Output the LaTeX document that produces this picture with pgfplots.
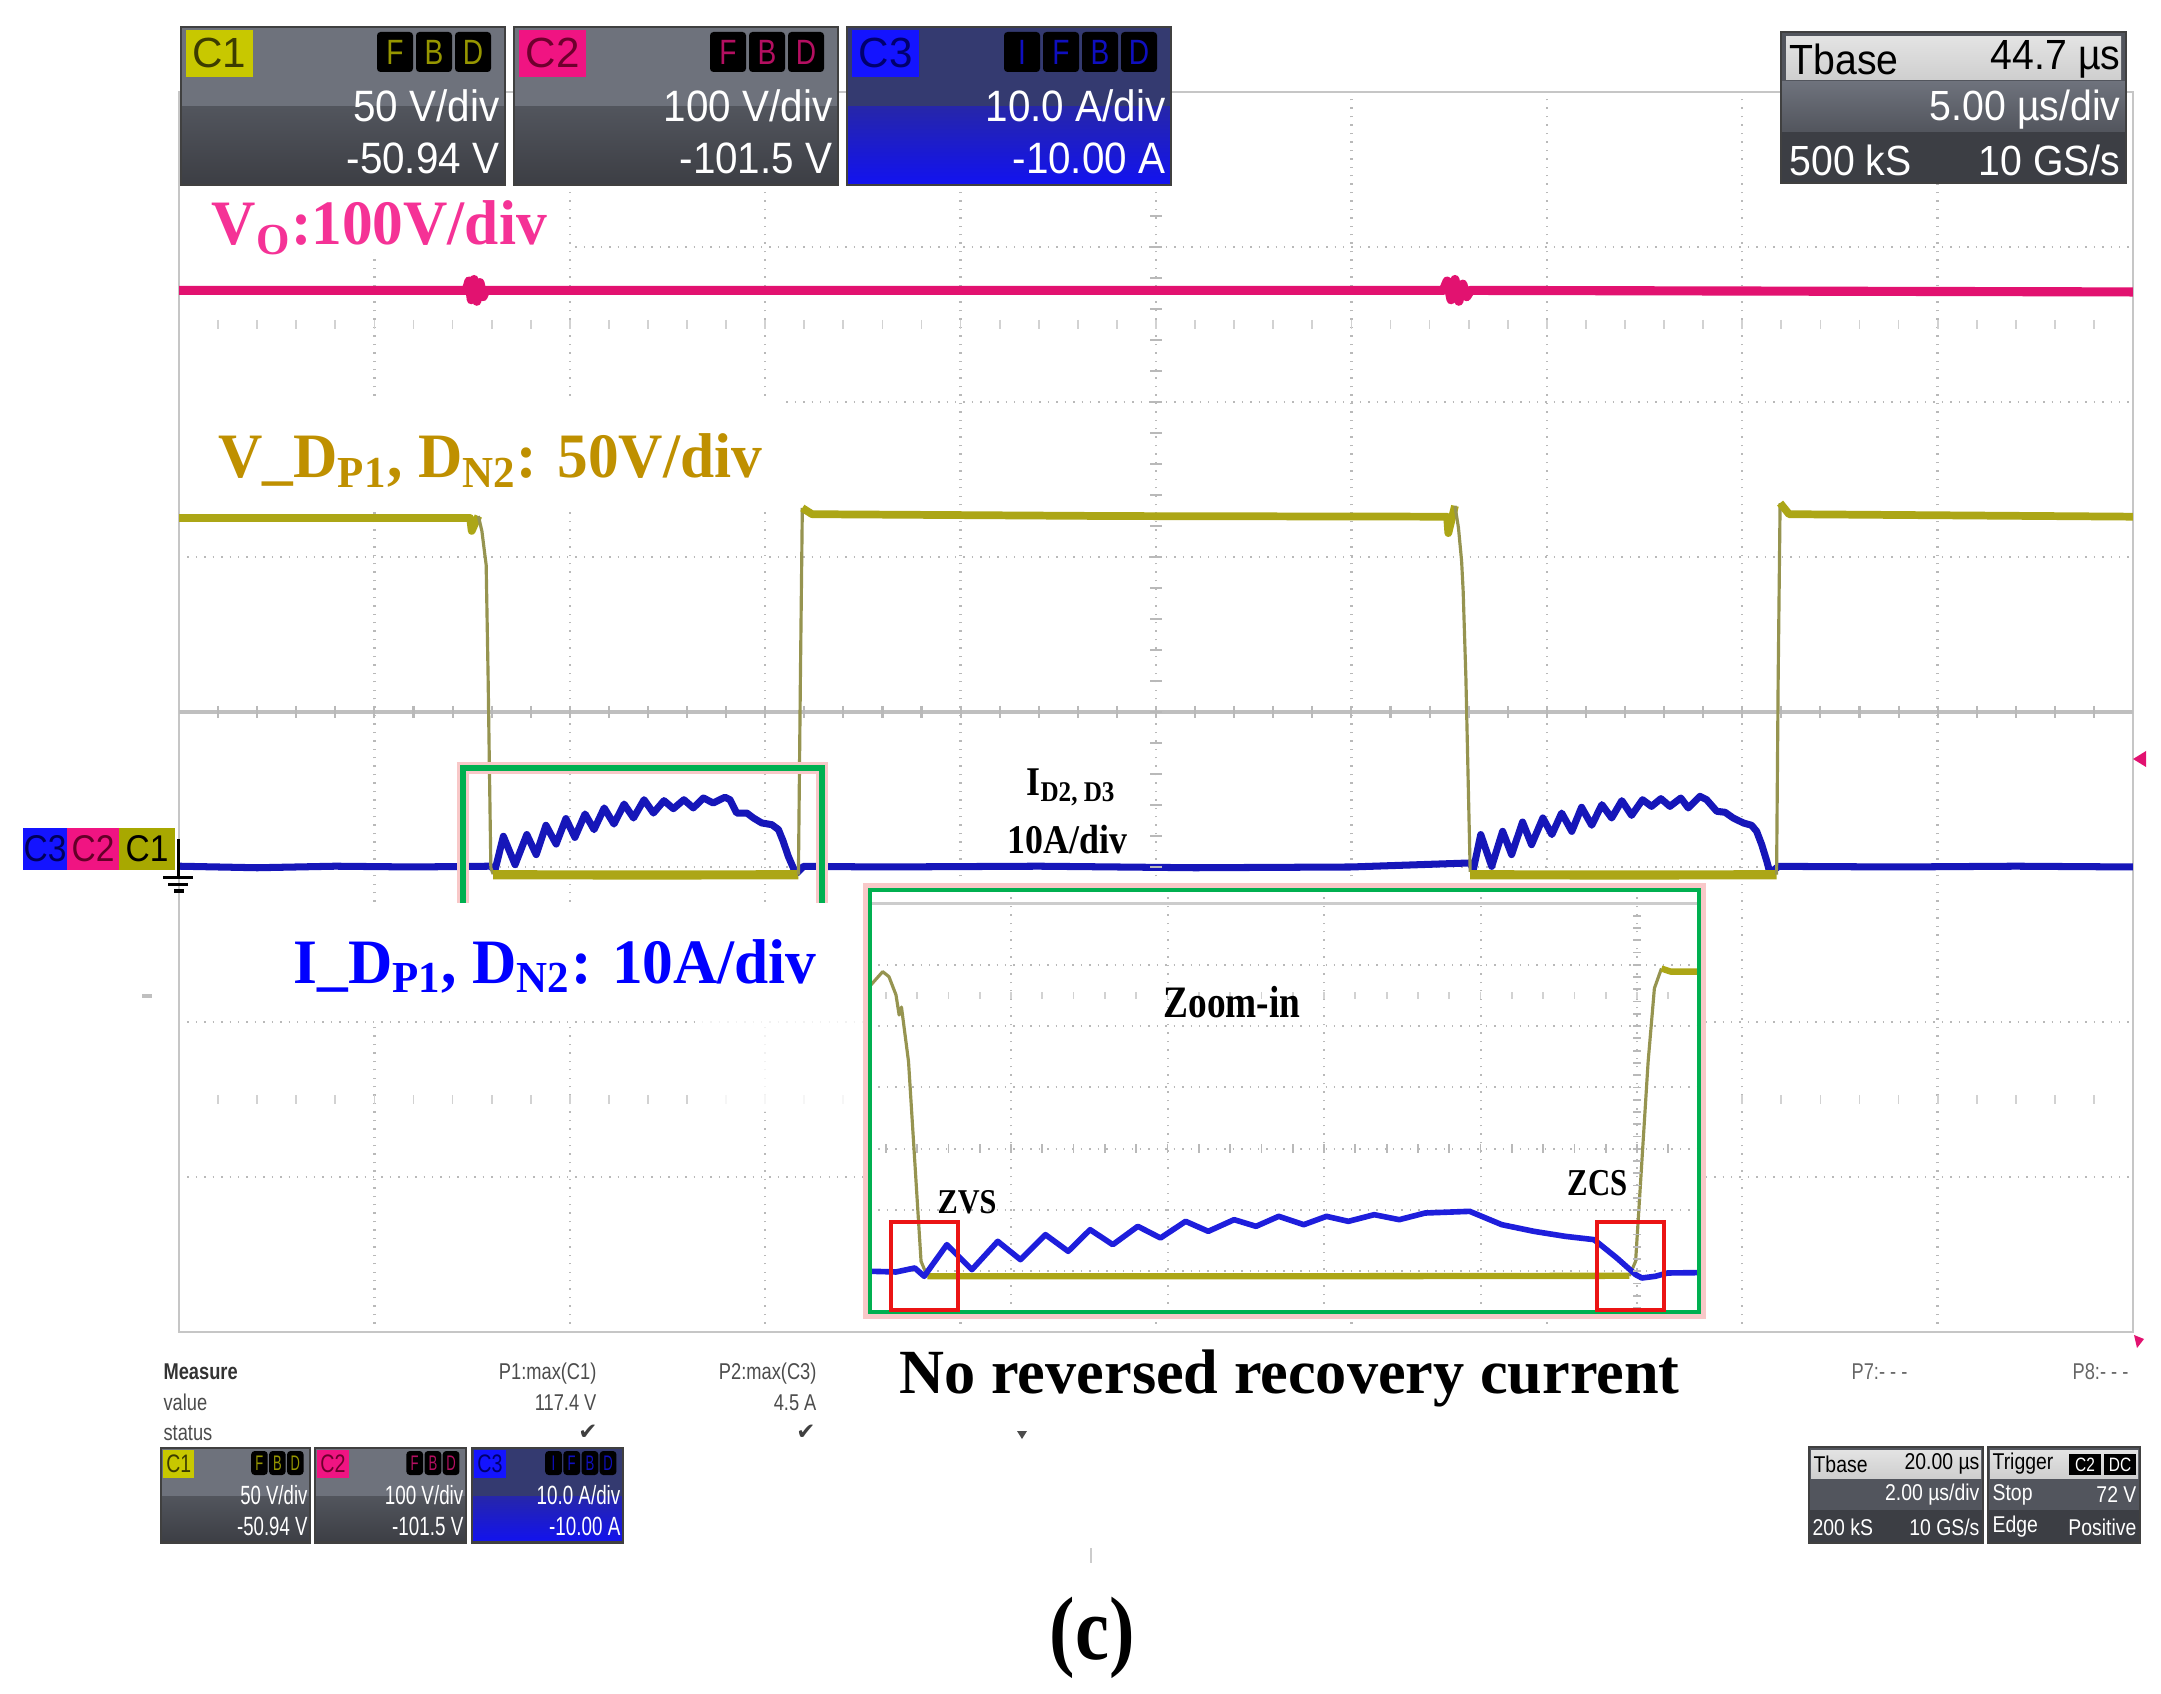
\documentclass[border=0pt]{standalone}
\usepackage{pgfplots}
\pgfplotsset{compat=1.18}
\usepackage{fontspec}
\setmainfont{Liberation Serif}
\newfontfamily\arial{Liberation Sans}
\newfontfamily\djv{DejaVu Sans}

\definecolor{vpink}{RGB}{226,18,112}
\definecolor{lpink}{RGB}{245,50,150}
\definecolor{ytrace}{RGB}{172,166,22}
\definecolor{yedge}{RGB}{150,148,80}
\definecolor{ylabel}{RGB}{191,144,0}
\definecolor{btrace}{RGB}{22,22,185}
\definecolor{binset}{RGB}{30,30,220}
\definecolor{ginset}{RGB}{0,176,80}
\definecolor{glow}{RGB}{248,200,200}
\definecolor{rbox}{RGB}{235,20,20}
\definecolor{pnlA}{RGB}{110,114,124}
\definecolor{pnlB}{RGB}{82,85,93}
\definecolor{pnlC}{RGB}{60,62,68}
\definecolor{pnlBlueA}{RGB}{52,58,112}
\definecolor{pnlBlueB}{RGB}{38,38,170}
\definecolor{pnlBlueC}{RGB}{18,18,240}
\definecolor{tagY}{RGB}{200,200,0}
\definecolor{tagP}{RGB}{240,20,130}
\definecolor{tagB}{RGB}{20,20,255}
\definecolor{tagO}{RGB}{168,168,0}

\newcommand{\fs}[1]{\fontsize{#1}{#1}\selectfont}

% channel panel, local units 324 x 158
\newcommand{\chpanel}[9]{%
  \fill[#1] (0,0) rectangle (324,80);
  \shade[top color=#2, bottom color=#3] (0,80) rectangle (324,158);
  \draw[black!75, line width=0.8pt] (0,0) rectangle (324,158);
  \fill[#4] (5,3) rectangle (72,50);
  \node[text=#5, font=\arial\fs{12}, inner sep=0] at (38.5,26) {#6};
  \foreach \px/\lt in {#7}{%
    \fill[black, rounded corners=1pt] (\px,5) rectangle ++(36,40);
    \node[text=#4!75!black, font=\arial\fs{10}, xscale=0.8, inner sep=0] at (\px+18,25) {\lt};
  }
  \node[anchor=east, text=white, font=\arial\fs{12.5}, xscale=0.92, inner sep=0] at (319,79) {#8};
  \node[anchor=east, text=white, font=\arial\fs{12.5}, xscale=0.92, inner sep=0] at (319,131) {#9};
}

\begin{document}
\begin{tikzpicture}
\begin{scope}[x=0.1mm,y=-0.1mm]
  \fill[white] (0,0) rectangle (2161,1694);
  \coordinate (mainNW) at (179,92);
  \coordinate (insetNW) at (870,890);
\end{scope}

% main screen: time in us, each channel scaled to divisions, ground at -1 div
\begin{axis}[
  at={(mainNW)}, anchor=north west,
  width=195.4mm, height=124mm, scale only axis,
  xmin=0, xmax=50, ymin=-4, ymax=4,
  xtick={5,10,...,45}, ytick={-3,-2,-1,1,2,3},
  xticklabels={}, yticklabels={}, major tick length=0pt,
  extra y ticks={0}, extra y tick labels={},
  extra y tick style={major grid style={solid, gray!50, line width=1pt}},
  grid=major, major grid style={dotted, gray!55, line width=0.7pt},
  axis line style={gray!45, line width=0.8pt},
  every axis plot/.append style={line join=round},
]
% V_O, 100 V/div
\addplot[vpink, line width=2.6pt, y filter/.expression={y/100-1}] coordinates {
  (0,372)(7.35,372)(7.42,378)(7.48,366)(7.55,379)(7.62,365)(7.70,377)(7.78,368)(7.85,372)
  (20,372)(32.35,372)(32.45,378)(32.55,366)(32.65,379)(32.75,365)(32.85,376)(32.95,368)(33.05,372)(50,371)
};
% I_D, 10 A/div
\addplot[btrace, line width=2pt, y filter/.expression={y/10-1}] coordinates {
  (0,0.05)(2,-0.05)(4,0.05)(6,0)(7.96,0.05)(8.09,-0.17)(8.30,1.98)(8.60,0.15)(8.90,2.09)(9.14,0.80)
  (9.39,2.69)(9.65,1.48)(9.90,3.12)(10.13,1.91)(10.39,3.42)(10.62,2.41)(10.88,3.81)(11.13,2.77)
  (11.39,4.06)(11.63,3.16)(11.90,4.34)(12.14,3.48)(12.41,4.28)(12.65,3.76)(12.92,4.34)(13.16,3.81)
  (13.42,4.45)(13.67,4.13)(13.97,4.50)(14.10,4.34)(14.27,3.48)(14.53,3.48)(14.70,3.16)(14.91,2.84)
  (15.17,2.73)(15.34,2.41)(15.46,1.66)(15.59,0.69)(15.72,-0.06)(15.81,-0.39)(15.98,0.04)
  (18,0)(22,0.05)(26,-0.05)(30,0)(33.04,0.26)(33.12,-0.17)(33.31,2.09)(33.59,0.04)(33.87,2.30)
  (34.10,0.80)(34.38,2.90)(34.61,1.44)(34.90,3.16)(35.13,2.09)(35.38,3.48)(35.64,2.30)(35.89,3.85)
  (36.15,2.69)(36.41,4.02)(36.66,3.16)(36.92,4.28)(37.17,3.33)(37.45,4.34)(37.68,3.91)(37.92,4.41)
  (38.15,3.91)(38.43,4.45)(38.62,3.81)(38.92,4.56)(39.09,4.34)(39.35,3.59)(39.56,3.53)(39.77,3.16)
  (40.03,2.84)(40.24,2.69)(40.37,2.30)(40.50,1.44)(40.63,0.37)(40.71,-0.39)(40.93,0.04)
  (44,0)(47,0.05)(50,0)
};
% V_D, 50 V/div: flat levels thick, edges thin
\addplot[ytrace, line width=2.2pt, y filter/.expression={y/50-1}] coordinates {
  (0,112.6)(7.45,112.6)(7.49,108.4)(7.66,113.2)};
\addplot[yedge, line width=0.9pt, y filter/.expression={y/50-1}] coordinates {
  (7.66,113.2)(7.75,108.4)(7.86,97.4)(7.91,61)(7.98,-0.3)(8.04,-2.3)};
\addplot[ytrace, line width=2.6pt, y filter/.expression={y/50-1}] coordinates {
  (8.04,-2.5)(12,-2.6)(15.85,-2.5)};
\addplot[yedge, line width=0.9pt, y filter/.expression={y/50-1}] coordinates {
  (15.85,-2.5)(15.90,60)(15.95,115.8)};
\addplot[ytrace, line width=2.2pt, y filter/.expression={y/50-1}] coordinates {
  (15.95,115.8)(16.2,113.8)(24,113.2)(32.45,113.0)(32.48,107.7)(32.65,116.5)};
\addplot[yedge, line width=0.9pt, y filter/.expression={y/50-1}] coordinates {
  (32.65,116.5)(32.74,109.4)(32.82,98.7)(32.86,89)(32.93,61)(33.04,-1.6)};
\addplot[ytrace, line width=2.6pt, y filter/.expression={y/50-1}] coordinates {
  (33.04,-2.5)(37,-2.6)(40.88,-2.5)};
\addplot[yedge, line width=0.9pt, y filter/.expression={y/50-1}] coordinates {
  (40.88,-2.5)(40.92,60)(40.97,117.4)};
\addplot[ytrace, line width=2.2pt, y filter/.expression={y/50-1}] coordinates {
  (40.97,117.4)(41.2,113.8)(50,113.0)};
\end{axis}

\begin{scope}[x=0.1mm,y=-0.1mm]
  % centre-line and half-scale tick marks
  \foreach \k in {1,...,49} {
    \draw[gray!55, line width=0.6pt] ({179+\k*39.08},706) -- ++(0,12);
    \draw[gray!35, line width=0.5pt] ({179+\k*39.08},320) -- ++(0,9);
    \draw[gray!35, line width=0.5pt] ({179+\k*39.08},1095) -- ++(0,9);
  }
  \foreach \k in {1,...,39} \draw[gray!55, line width=0.6pt] (1150,{92+\k*31}) -- ++(12,0);

  % white label backgrounds
  \fill[white] (183,186) rectangle (569,252);
  \fill[white] (182,398) rectangle (786,510);
  % zoom frame round the first pulse
  \draw[glow, line width=3.2pt] (463,905) -- (463,768) -- (822,768) -- (822,905);
  \draw[ginset, line width=1.7pt] (463,905) -- (463,768) -- (822,768) -- (822,905);
  \fill[white] (181,903) rectangle (866,1020);
  \fill[white, opacity=0.8] (700,1020) rectangle (866,1112);

  % channel markers and ground
  \fill[tagB] (23,828) rectangle (67,870);
  \fill[tagP] (67,828) rectangle (119,870);
  \fill[tagO] (119,828) rectangle (175,870);
  \node[text={rgb,255:red,0;green,0;blue,90}, font=\arial\fs{10.6}, xscale=0.9, inner sep=0] at (45,849) {C3};
  \node[text={rgb,255:red,100;green,0;blue,40}, font=\arial\fs{10.6}, xscale=0.9, inner sep=0] at (93,849) {C2};
  \node[text=black, font=\arial\fs{10.6}, xscale=0.9, inner sep=0] at (147,849) {C1};
  \draw[black, line width=0.9pt] (178.5,839) -- (178.5,877);
  \draw[black, line width=0.9pt] (163,877.5) -- (193,877.5);
  \draw[black, line width=0.9pt] (168,884.4) -- (188,884.4);
  \draw[black, line width=0.9pt] (174,891) -- (184,891);
\end{scope}

% zoomed view: 2 us/div
\begin{axis}[
  at={(insetNW)}, anchor=north west,
  width=82.9mm, height=42.2mm, scale only axis,
  xmin=0.198, xmax=10.79, ymin=-2.664, ymax=4.22,
  xtick={2,4,6,8,10}, ytick={-2,-1,0,1,2,3},
  xticklabels={}, yticklabels={}, major tick length=0pt,
  extra y ticks={4}, extra y tick labels={},
  extra y tick style={major grid style={solid, gray!40, line width=1.1pt}},
  grid=major, major grid style={dotted, gray!55, line width=0.6pt},
  axis line style={draw=none},
  axis background/.style={fill=white},
  every axis plot/.append style={line join=round},
]
\addplot[yedge, line width=0.9pt, y filter/.expression={y/23.2-2}] coordinates {
  (0.21,108.4)(0.36,113.4)(0.44,111.5)(0.53,104.6)(0.57,97.0)(0.60,100)(0.69,79.4)(0.77,41.6)(0.85,3.8)(0.93,-1.9)};
\addplot[ytrace, line width=1.8pt, y filter/.expression={y/23.2-2}] coordinates {
  (0.93,-1.9)(5,-1.9)(9.90,-1.7)};
\addplot[yedge, line width=0.9pt, y filter/.expression={y/23.2-2}] coordinates {
  (9.90,-1.7)(9.98,3.8)(10.06,41.6)(10.14,79.4)(10.22,107.1)(10.31,114.6)};
\addplot[ytrace, line width=1.8pt, y filter/.expression={y/23.2-2}] coordinates {
  (10.31,114.6)(10.43,113.4)(10.79,113.4)};
\addplot[binset, line width=1.6pt, y filter/.expression={y/4.6-2}] coordinates {
  (0.22,0)(0.53,-0.05)(0.77,0.25)(0.89,-0.375)(1.18,2.0)(1.50,0.125)(1.83,2.25)(2.12,0.875)
  (2.44,2.75)(2.73,1.5)(3.01,3.125)(3.30,2.0)(3.62,3.375)(3.91,2.5)(4.23,3.75)(4.52,3.0)
  (4.85,3.875)(5.13,3.375)(5.42,4.125)(5.74,3.5)(6.03,4.125)(6.31,3.75)(6.64,4.25)(6.96,3.875)
  (7.29,4.375)(7.86,4.5)(8.27,3.5)(8.68,3.0)(9.08,2.625)(9.45,2.375)(9.74,1.0)(9.98,-0.25)
  (10.06,-0.5)(10.23,-0.375)(10.39,-0.125)(10.79,-0.1)
};
\end{axis}

\begin{scope}[x=0.1mm,y=-0.1mm]
  \foreach \k in {1,...,26} {
    \draw[gray!55, line width=0.5pt] ({854.5+\k*31.3},1144) -- ++(0,9);
    \draw[gray!35, line width=0.5pt] ({854.5+\k*31.3},992) -- ++(0,7);
  }
  \foreach \k in {1,...,33} \draw[gray!55, line width=0.5pt] (1633,{903.5+\k*12.26}) -- ++(8,0);
  \draw[glow, line width=1.8pt] (866,886) rectangle (1703,1316);
  \draw[ginset, line width=1.4pt] (870,890) rectangle (1699,1312);
  \draw[rbox, line width=1.4pt] (891,1222) rectangle (958,1310);
  \draw[rbox, line width=1.4pt] (1597,1222) rectangle (1664,1310);

  % annotations
  \node[anchor=base west, text=lpink, font=\fs{18}\bfseries, xscale=0.97, inner sep=0] at (211,245) {V\textsubscript{O}:100V/div};
  \node[anchor=base west, text=ylabel, font=\fs{18}\bfseries, xscale=0.97, inner sep=0] at (218,478) {V\_D\textsubscript{P1}, D\textsubscript{N2}: 50V/div};
  \node[anchor=base west, text=blue, font=\fs{18}\bfseries, xscale=0.97, inner sep=0] at (293,983) {I\_D\textsubscript{P1}, D\textsubscript{N2}: 10A/div};
  \node[anchor=base west, font=\fs{11.6}\bfseries, xscale=0.88, inner sep=0] at (1026,795) {I\textsubscript{D2, D3}};
  \node[anchor=base west, font=\fs{11.6}\bfseries, xscale=0.88, inner sep=0] at (1007,853) {10A/div};
  \node[anchor=base, font=\fs{12.8}\bfseries, xscale=0.83, inner sep=0] at (1232,1017) {Zoom-in};
  \node[anchor=base west, font=\fs{9.9}\bfseries, xscale=0.87, inner sep=0] at (937,1213) {ZVS};
  \node[anchor=base west, font=\fs{10.8}\bfseries, xscale=0.81, inner sep=0] at (1567,1195) {ZCS};
  \node[anchor=base west, font=\fs{17.9}\bfseries, xscale=0.99, inner sep=0] at (899,1393) {No reversed recovery current};
  \node[anchor=base, font=\fs{25.6}\bfseries, xscale=0.85, inner sep=0] at (1092,1659) {(c)};

  % top scope panels
  \begin{scope}[shift={(181,27)}]
    \chpanel{pnlA}{pnlB}{pnlC}{tagY}{{rgb,255:red,60;green,60;blue,0}}{C1}{196/F,235/B,274/D}{50 V/div}{-50.94 V}
  \end{scope}
  \begin{scope}[shift={(514,27)}]
    \chpanel{pnlA}{pnlB}{pnlC}{tagP}{{rgb,255:red,110;green,0;blue,45}}{C2}{196/F,235/B,274/D}{100 V/div}{-101.5 V}
  \end{scope}
  \begin{scope}[shift={(847,27)}]
    \chpanel{pnlBlueA}{pnlBlueB}{pnlBlueC}{tagB}{{rgb,255:red,0;green,0;blue,110}}{C3}{157/I,196/F,235/B,274/D}{10.0 A/div}{-10.00 A}
  \end{scope}
  \begin{scope}[shift={(1781,32)}]
    \fill[pnlB] (0,0) rectangle (345,151);
    \shade[top color=pnlA, bottom color=pnlB] (0,50) rectangle (345,100);
    \fill[pnlC] (0,100) rectangle (345,151);
    \shade[top color=gray!22, bottom color=gray!38] (5,5) rectangle (340,48);
    \draw[black!75, line width=0.8pt] (0,0) rectangle (345,151);
    \node[anchor=west, font=\arial\fs{12}, xscale=0.93, inner sep=0] at (8,27) {Tbase};
    \node[anchor=east, font=\arial\fs{12}, xscale=0.93, inner sep=0] at (340,27) {44.7 µs};
    \node[anchor=east, text=white, font=\arial\fs{12}, xscale=0.93, inner sep=0] at (340,78) {5.00 µs/div};
    \node[anchor=west, text=white, font=\arial\fs{12}, xscale=0.93, inner sep=0] at (8,128) {500 kS};
    \node[anchor=east, text=white, font=\arial\fs{12}, xscale=0.93, inner sep=0] at (340,128) {10 GS/s};
  \end{scope}

  % measurement table
  \node[anchor=base west, text=black!80, font=\arial\fs{6.5}\bfseries, xscale=0.8, inner sep=0] at (163,1379) {Measure};
  \node[anchor=base west, text=black!70, font=\arial\fs{6.5}, xscale=0.8, inner sep=0] at (163,1410) {value};
  \node[anchor=base west, text=black!70, font=\arial\fs{6.5}, xscale=0.8, inner sep=0] at (163,1440) {status};
  \node[anchor=base east, text=black!70, font=\arial\fs{6.5}, xscale=0.8, inner sep=0] at (597,1379) {P1:max(C1)};
  \node[anchor=base east, text=black!70, font=\arial\fs{6.5}, xscale=0.8, inner sep=0] at (597,1410) {117.4 V};
  \node[text=black!75, font=\djv\fs{6.5}, inner sep=0] at (588,1432) {✔};
  \node[anchor=base east, text=black!70, font=\arial\fs{6.5}, xscale=0.8, inner sep=0] at (817,1379) {P2:max(C3)};
  \node[anchor=base east, text=black!70, font=\arial\fs{6.5}, xscale=0.8, inner sep=0] at (817,1410) {4.5 A};
  \node[text=black!75, font=\djv\fs{6.5}, inner sep=0] at (806,1432) {✔};
  \node[anchor=base west, text=black!60, font=\arial\fs{6.5}, xscale=0.8, inner sep=0] at (1851,1379) {P7:- - -};
  \node[anchor=base west, text=black!60, font=\arial\fs{6.5}, xscale=0.8, inner sep=0] at (2072,1379) {P8:- - -};

  % bottom panels
  \begin{scope}[shift={(161,1448)}, xscale=0.46, yscale=0.60, transform shape]
    \chpanel{pnlA}{pnlB}{pnlC}{tagY}{{rgb,255:red,60;green,60;blue,0}}{C1}{196/F,235/B,274/D}{50 V/div}{-50.94 V}
  \end{scope}
  \begin{scope}[shift={(315,1448)}, xscale=0.466, yscale=0.60, transform shape]
    \chpanel{pnlA}{pnlB}{pnlC}{tagP}{{rgb,255:red,110;green,0;blue,45}}{C2}{196/F,235/B,274/D}{100 V/div}{-101.5 V}
  \end{scope}
  \begin{scope}[shift={(472,1448)}, xscale=0.466, yscale=0.60, transform shape]
    \chpanel{pnlBlueA}{pnlBlueB}{pnlBlueC}{tagB}{{rgb,255:red,0;green,0;blue,110}}{C3}{157/I,196/F,235/B,274/D}{10.0 A/div}{-10.00 A}
  \end{scope}
  % bottom timebase and trigger
  \fill[pnlB] (1809,1447) rectangle (1983,1543);
  \fill[pnlC] (1809,1510) rectangle (1983,1543);
  \shade[top color=gray!22, bottom color=gray!38] (1811,1450) rectangle (1981,1478);
  \draw[black!75, line width=0.6pt] (1809,1447) rectangle (1983,1543);
  \fill[pnlB] (1988,1447) rectangle (2140,1543);
  \fill[pnlC] (1988,1510) rectangle (2140,1543);
  \shade[top color=gray!22, bottom color=gray!38] (1990,1450) rectangle (2138,1478);
  \draw[black!75, line width=0.6pt] (1988,1447) rectangle (2140,1543);
  \fill[black] (2069,1454) rectangle (2101,1475);
  \fill[black] (2104,1454) rectangle (2136,1475);
  \node[text=white, font=\arial\fs{5.5}, xscale=0.8, inner sep=0] at (2085,1464.5) {C2};
  \node[text=white, font=\arial\fs{5.5}, xscale=0.8, inner sep=0] at (2120,1464.5) {DC};
  \node[anchor=west, font=\arial\fs{6.5}, xscale=0.85, inner sep=0] at (1813,1464) {Tbase};
  \node[anchor=east, font=\arial\fs{6.5}, xscale=0.85, inner sep=0] at (1980,1464) {20.00 µs};
  \node[anchor=east, text=white, font=\arial\fs{6.5}, xscale=0.85, inner sep=0] at (1980,1495) {2.00 µs/div};
  \node[anchor=west, text=white, font=\arial\fs{6.5}, xscale=0.85, inner sep=0] at (1812,1527) {200 kS};
  \node[anchor=east, text=white, font=\arial\fs{6.5}, xscale=0.85, inner sep=0] at (1980,1527) {10 GS/s};
  \node[anchor=west, font=\arial\fs{6.5}, xscale=0.85, inner sep=0] at (1992,1464) {Trigger};
  \node[anchor=west, text=white, font=\arial\fs{6.5}, xscale=0.85, inner sep=0] at (1992,1495) {Stop};
  \node[anchor=east, text=white, font=\arial\fs{6.5}, xscale=0.85, inner sep=0] at (2137,1495) {72 V};
  \node[anchor=west, text=white, font=\arial\fs{6.5}, xscale=0.85, inner sep=0] at (1992,1527) {Edge};
  \node[anchor=east, text=white, font=\arial\fs{6.5}, xscale=0.85, inner sep=0] at (2137,1527) {Positive};

  % small markers
  \fill[vpink] (2133,759) -- (2146,751) -- (2146,767) -- cycle;
  \fill[vpink] (2134,1335) -- (2144,1339) -- (2137,1348) -- cycle;
  \fill[black!70] (1017,1431) -- (1027,1431) -- (1022,1439) -- cycle;
  \draw[gray!40, line width=0.8pt] (1091,1548) -- (1091,1563);
  \draw[gray!50, line width=1pt] (142,996) -- (152,996);

  \pgfresetboundingbox
  \path[use as bounding box] (0,0) rectangle (2161,1694);
\end{scope}
\end{tikzpicture}
\end{document}
